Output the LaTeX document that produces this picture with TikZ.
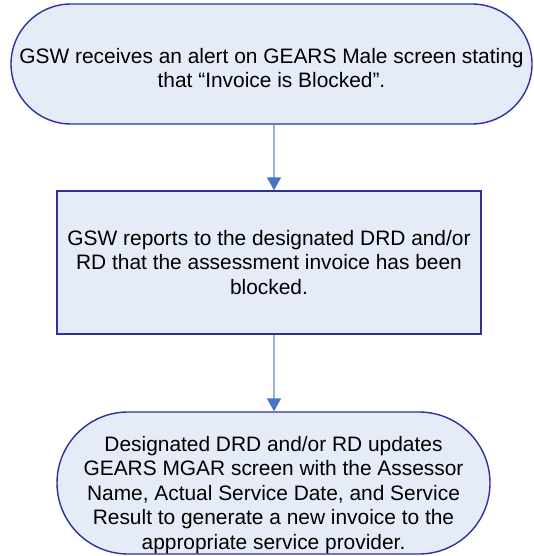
\documentclass[tikz,border=0pt]{standalone}
\usepackage{fontspec}
\setmainfont{Liberation Sans}
\usetikzlibrary{arrows.meta}
\definecolor{boxfill}{HTML}{E6ECF7}
\definecolor{boxline}{HTML}{30309A}
\definecolor{arrline}{HTML}{98B4DF}
\definecolor{arrhead}{HTML}{4675C6}
\tikzset{
  shapebox/.style={draw=boxline, fill=boxfill, line width=1.4pt, inner sep=0pt, rectangle},
  labeltext/.style={align=center, inner sep=0pt, font=\fontsize{20.9pt}{24.5pt}\selectfont, text=black},
  flowarrow/.style={draw=arrline, line width=1.5pt, -{Triangle[width=14pt,length=13pt,color=arrhead]}}
}
\begin{document}
\begin{tikzpicture}[x=1pt,y=1pt]
\useasboundingbox (0,0) rectangle (533,-556);
\node[shapebox, minimum width=521pt, minimum height=120pt, rounded corners=60pt] (n1) at (271.5,-64) {};
\node[labeltext] (t1) at (271.5,-68) {GSW receives an alert on GEARS Male screen stating\\that “Invoice is Blocked”.};
\node[shapebox, minimum width=424pt, minimum height=143pt] (n2) at (269,-262.5) {};
\node[labeltext] (t2) at (269,-262.5) {GSW reports to the designated DRD and/or\\RD that the assessment invoice has been\\blocked.};
\node[shapebox, minimum width=433pt, minimum height=142pt, rounded corners=71pt] (n3) at (273.5,-483) {};
\node[labeltext] (t3) at (273.5,-495) {Designated DRD and/or RD updates\\GEARS MGAR screen with the Assessor\\Name, Actual Service Date, and Service\\Result to generate a new invoice to the\\appropriate service provider.};
\coordinate (ax) at (274,0);
\draw[flowarrow] (ax |- n1.south) -- (ax |- n2.north);
\draw[flowarrow] (ax |- n2.south) -- (ax |- n3.north);
\end{tikzpicture}
\end{document}
